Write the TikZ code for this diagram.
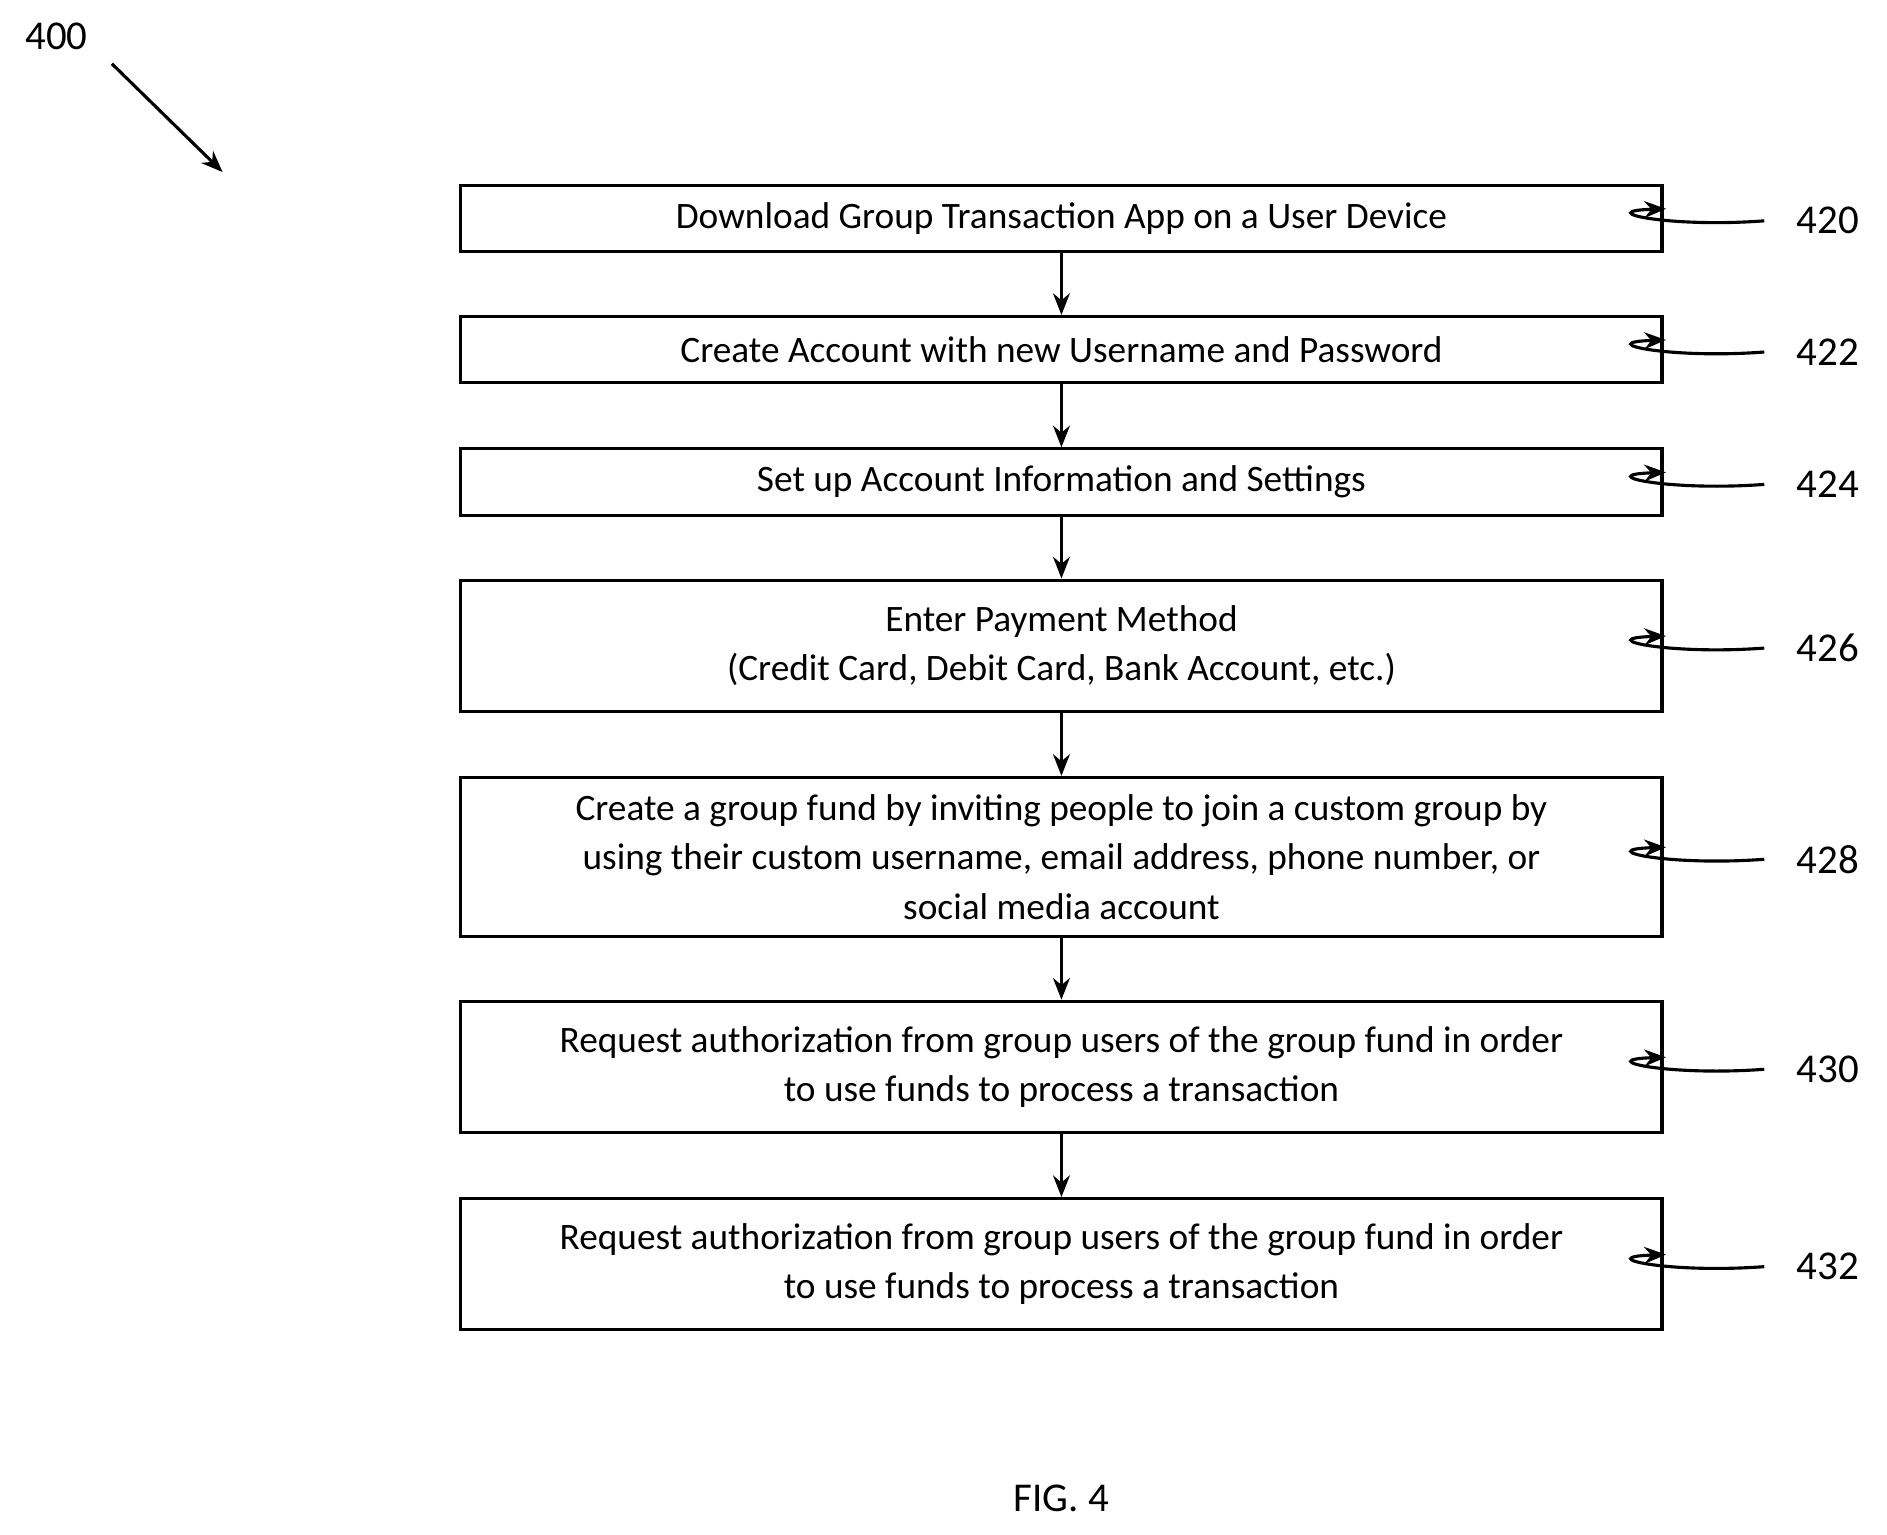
\documentclass[tikz,border=0pt]{standalone}
\usepackage{fontspec}
\setmainfont{Carlito}
\usetikzlibrary{arrows.meta}
\begin{document}
\begin{tikzpicture}[x=0.5pt,y=-0.5pt,
  box/.style={draw,line width=1.3pt,minimum width=499pt,align=center,inner sep=0pt,font=\fontsize{15.5}{20.5}\selectfont},
  arr/.style={-{Stealth[length=9pt,width=7pt]},line width=1.3pt},
  lbl/.style={font=\fontsize{17}{20}\selectfont}]
\useasboundingbox (0,0) rectangle (1568,1275);
\node[box,minimum height=27.5pt] (b1) at (882,181.5) {Download Group Transaction App on a User Device};
\node[box,minimum height=27.5pt] (b2) at (882,290.5) {Create Account with new Username and Password};
\node[box,minimum height=27.5pt] (b3) at (882,400.5) {Set up Account Information and Settings};
\node[box,minimum height=54.5pt] (b4) at (882,536.5) {Enter Payment Method\\(Credit Card, Debit Card, Bank Account, etc.)};
\node[box,minimum height=66pt] (b5) at (882,712) {Create a group fund by inviting people to join a custom group by\\using their custom username, email address, phone number, or\\social media account};
\node[box,minimum height=54.5pt] (b6) at (882,886.5) {Request authorization from group users of the group fund in order\\to use funds to process a transaction};
\node[box,minimum height=54.5pt] (b7) at (882,1050.5) {Request authorization from group users of the group fund in order\\to use funds to process a transaction};
\foreach \a/\b in {b1/b2,b2/b3,b3/b4,b4/b5,b5/b6,b6/b7} \draw[arr] (\a.south) -- (\b.north);
\foreach \n/\t in {b1/420,b2/422,b3/424,b4/426,b5/428,b6/430,b7/432}{
  \node[lbl,anchor=west] (l\n) at (1486,0 |- \n.east) [yshift=-1pt] {\t};
  \draw[arr] ([xshift=-10pt]l\n.west) .. controls ([xshift=-50pt,yshift=-3pt]l\n.west) and ([xshift=-30pt,yshift=3pt]\n.east) .. ([xshift=1pt,yshift=4pt]\n.east);
}
\node[lbl] (n400) at (47,30) {400};
\coordinate (c400) at (185,143);
\draw[arr] (93,53) -- (c400);
\node[lbl] (fig) at (882,1245) {FIG. 4};
\end{tikzpicture}
\end{document}
